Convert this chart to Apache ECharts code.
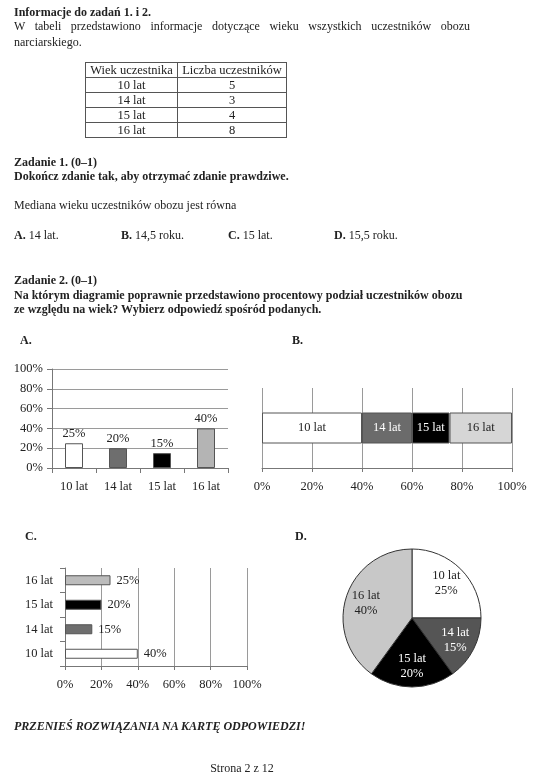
<!DOCTYPE html>
<html>
<head>
<meta charset="utf-8">
<script src="https://cdn.jsdelivr.net/npm/echarts@6/dist/echarts.min.js"></script>
<style>
body { margin: 0; background: #fff; }
#page { position: relative; width: 547px; height: 780px; font-family: "Liberation Serif", serif; font-size: 12px; color: #222; overflow: hidden; }
#chart { position: absolute; left: 0; top: 0; width: 547px; height: 780px; }
.t { position: absolute; left: 14px; line-height: 14px; white-space: nowrap; }
.b { font-weight: bold; }
.just { width: 456px; text-align: justify; text-align-last: justify; white-space: normal; }
table { position: absolute; left: 85px; top: 62px; width: 200px; border-collapse: collapse; table-layout: fixed; font-size: 12.5px; }
td { border: 1px solid #555; height: 14px; line-height: 14px; padding: 0; text-align: center; }
</style>
</head>
<body>
<div id="page">
  <div id="chart"></div>

  <div class="t b" style="top:5px">Informacje do zadań 1. i 2.</div>
  <div class="t just" style="top:19px">W tabeli przedstawiono informacje dotyczące wieku wszystkich uczestników obozu</div>
  <div class="t" style="top:35px">narciarskiego.</div>

  <table id="tab"></table>

  <div class="t b" style="top:155px">Zadanie 1. (0–1)</div>
  <div class="t b" style="top:169px">Dokończ zdanie tak, aby otrzymać zdanie prawdziwe.</div>
  <div class="t" style="top:198px">Mediana wieku uczestników obozu jest równa</div>
  <div class="t" style="top:228px"><b>A.</b> 14 lat.</div>
  <div class="t" style="top:228px;left:121px"><b>B.</b> 14,5 roku.</div>
  <div class="t" style="top:228px;left:228px"><b>C.</b> 15 lat.</div>
  <div class="t" style="top:228px;left:334px"><b>D.</b> 15,5 roku.</div>

  <div class="t b" style="top:273px">Zadanie 2. (0–1)</div>
  <div class="t b" style="top:288px">Na którym diagramie poprawnie przedstawiono procentowy podział uczestników obozu</div>
  <div class="t b" style="top:302px">ze względu na wiek? Wybierz odpowiedź spośród podanych.</div>

  <div class="t b" style="top:333px;left:20px">A.</div>
  <div class="t b" style="top:333px;left:292px">B.</div>
  <div class="t b" style="top:529px;left:25px">C.</div>
  <div class="t b" style="top:529px;left:295px">D.</div>

  <div class="t b" style="top:719px;font-style:italic">PRZENIEŚ ROZWIĄZANIA NA KARTĘ ODPOWIEDZI!</div>
  <div class="t" style="top:761px;left:0;width:484px;text-align:center">Strona 2 z 12</div>
</div>

<script>
// dane z tabeli
const ages = ['10 lat', '14 lat', '15 lat', '16 lat'];
const counts = [5, 3, 4, 8];

// wartości na diagramach A-D (w procentach)
const aValues = [25, 20, 15, 40];
const bValues = [40, 20, 15, 25];
const cValues = [40, 15, 20, 25];
const dValues = [25, 15, 20, 40];
const pctTicks = [0, 20, 40, 60, 80, 100];

// kolory
const aColors = ['#ffffff', '#6e6e6e', '#000000', '#b4b4b4'];
const bColors = ['#ffffff', '#6b6b6b', '#000000', '#d6d6d6'];
const bText = ['#222', '#fff', '#fff', '#222'];
const cColors = ['#ffffff', '#6e6e6e', '#000000', '#bcbcbc'];
const dColors = ['#ffffff', '#555555', '#000000', '#c8c8c8'];
const dText = ['#222', '#fff', '#fff', '#222'];

const tab = document.getElementById('tab');
let html = '<tr><td style="width:91px">Wiek uczestnika</td><td style="width:108px">Liczba uczestników</td></tr>';
ages.forEach((a, i) => {
  html += '<tr><td>' + a + '</td><td>' + counts[i] + '</td></tr>';
});
tab.innerHTML = html;

const font = 'Liberation Serif';
const axisGray = '#777';
const gridGray = '#9a9a9a';
const lbl = { fontFamily: font, fontSize: 12.5, color: '#222' };
const pctMin = pctTicks[0];
const pctMax = pctTicks[pctTicks.length - 1];
const pctStep = pctTicks[1] - pctTicks[0];

const chart = echarts.init(document.getElementById('chart'));

const valueAxis = (idx, extra) => Object.assign({
  gridIndex: idx,
  type: 'value',
  min: pctMin,
  max: pctMax,
  interval: pctStep,
  axisLine: { show: true, lineStyle: { color: axisGray } },
  axisTick: { show: true, length: 4, lineStyle: { color: axisGray } },
  splitLine: { show: true, lineStyle: { color: gridGray, width: 1 } },
  axisLabel: Object.assign({ formatter: '{value}%', margin: 12 }, lbl)
}, extra || {});

const option = {
  animation: false,
  textStyle: { fontFamily: font },
  grid: [
    { left: 52, top: 369, width: 176, height: 99 },
    { left: 262, top: 388, width: 250, height: 80 },
    { left: 65, top: 568, width: 182, height: 98 }
  ],
  xAxis: [
    {
      gridIndex: 0,
      type: 'category',
      data: ages,
      axisLine: { show: true, lineStyle: { color: axisGray } },
      axisTick: { show: true, length: 5, lineStyle: { color: axisGray } },
      axisLabel: Object.assign({ margin: 12 }, lbl)
    },
    valueAxis(1),
    valueAxis(2)
  ],
  yAxis: [
    valueAxis(0, { axisLabel: Object.assign({ formatter: '{value}%', margin: 9 }, lbl), axisTick: { show: true, length: 5, lineStyle: { color: axisGray } } }),
    {
      gridIndex: 1,
      type: 'category',
      data: [''],
      axisLine: { show: false },
      axisTick: { show: false },
      axisLabel: { show: false }
    },
    {
      gridIndex: 2,
      type: 'category',
      data: ages,
      axisLine: { show: true, lineStyle: { color: axisGray } },
      axisTick: { show: true, length: 5, lineStyle: { color: axisGray } },
      axisLabel: Object.assign({ margin: 12 }, lbl)
    }
  ],
  series: [
    {
      type: 'bar',
      xAxisIndex: 0,
      yAxisIndex: 0,
      barWidth: 18,
      data: aValues.map((v, i) => ({ value: v, itemStyle: { color: aColors[i] } })),
      itemStyle: { borderColor: '#555', borderWidth: 1 },
      label: Object.assign({ show: true, position: 'top', distance: 3, formatter: '{c}%' }, lbl)
    },
    ...ages.map((a, i) => ({
      type: 'bar',
      name: a,
      stack: 'b',
      xAxisIndex: 1,
      yAxisIndex: 1,
      barWidth: 31,
      data: [bValues[i]],
      itemStyle: { color: bColors[i], borderColor: '#555', borderWidth: 1 },
      label: Object.assign({}, lbl, { show: true, position: 'inside', formatter: '{a}', color: bText[i] })
    })),
    {
      type: 'bar',
      xAxisIndex: 2,
      yAxisIndex: 2,
      barWidth: 10,
      data: cValues.map((v, i) => ({ value: v, itemStyle: { color: cColors[i] } })),
      itemStyle: { borderColor: '#555', borderWidth: 1 },
      label: Object.assign({ show: true, position: 'right', distance: 6, formatter: '{c}%' }, lbl)
    },
    {
      type: 'pie',
      silent: true,
      center: [412, 618],
      radius: [0, 69],
      startAngle: 90,
      clockwise: true,
      label: { show: false },
      labelLine: { show: false },
      itemStyle: { borderColor: '#333', borderWidth: 1 },
      data: ages.map((a, i) => ({ name: a, value: dValues[i], itemStyle: { color: dColors[i] } }))
    },
    {
      type: 'pie',
      silent: true,
      center: [412, 618],
      radius: [22, 69],
      startAngle: 90,
      clockwise: true,
      labelLine: { show: false },
      itemStyle: { color: 'rgba(0,0,0,0)', borderWidth: 0 },
      data: ages.map((a, i) => ({
        name: a,
        value: dValues[i],
        label: Object.assign({}, lbl, { show: true, position: 'inside', formatter: '{b}\n{c}%', lineHeight: 15, color: dText[i] })
      }))
    }
  ]
};

chart.setOption(option);
</script>
</body>
</html>
